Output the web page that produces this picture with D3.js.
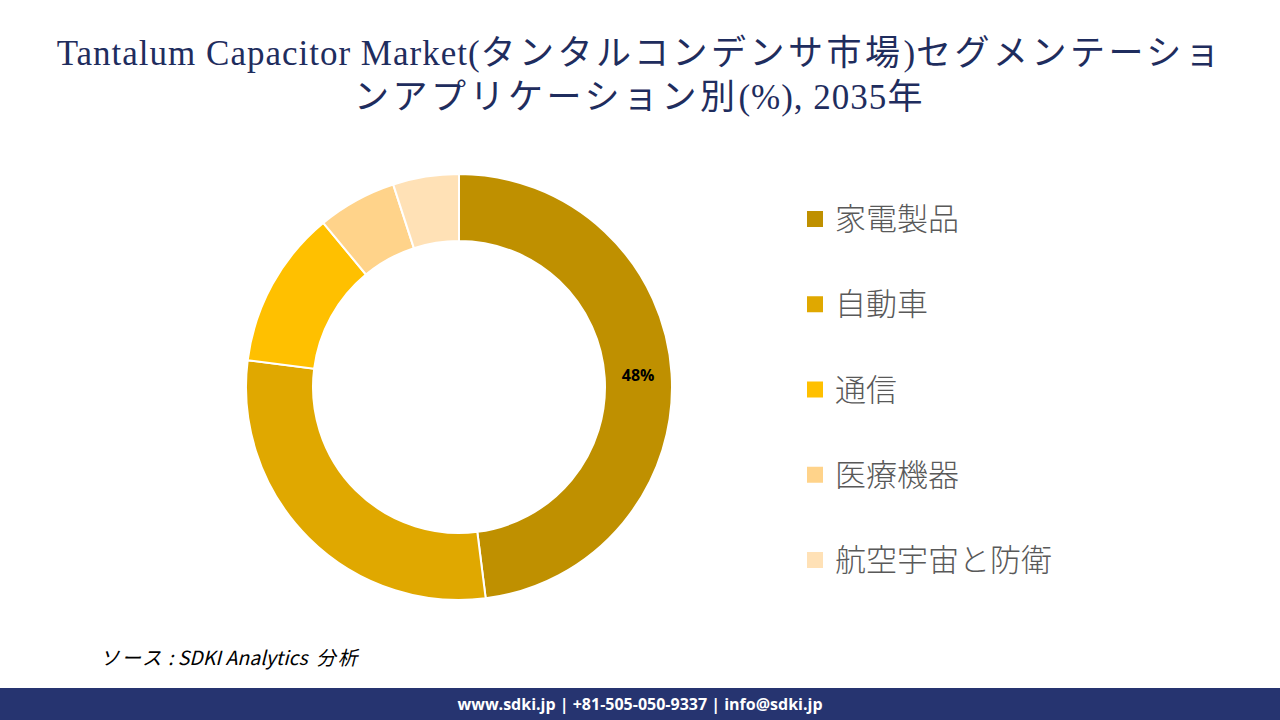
<!DOCTYPE html>
<html>
<head>
<meta charset="utf-8">
<script src="https://cdn.jsdelivr.net/npm/d3@7"></script>
<style>
  body { margin: 0; background: #fff; }
  svg { display: block; }
</style>
</head>
<body>
<div id="chart"></div>
<script>
// data
const segments = ['家電製品', '自動車', '通信', '医療機器', '航空宇宙と防衛'];
const shares = [48, 29, 12, 6, 5];
const colors = ['#BF9000', '#E0A800', '#FFC000', '#FFD38A', '#FFE1B6'];
const titleLines = [
    'Tantalum Capacitor Market(タンタルコンデンサ市場)セグメンテーショ',
    'ンアプリケーション別(%), 2035年'
];

const W = 1280, H = 720;
const svg = d3.select('#chart').append('svg')
    .attr('width', W)
    .attr('height', H);

// split a line into latin / japanese runs so each gets its own spacing
function runs(str) {
    return str.match(/[\u3000-\u9fff\uff00-\uffef]+|[^\u3000-\u9fff\uff00-\uffef]+/g)
        .map(t => ({ t, jp: /[\u3000-\u9fff\uff00-\uffef]/.test(t) }));
}

// title
const title = svg.selectAll('.title')
    .data(titleLines)
    .join('text')
    .attr('class', 'title')
    .attr('x', W / 2)
    .attr('y', (d, i) => 65 + i * 44)
    .attr('text-anchor', 'middle')
    .style('font-family', '"Liberation Serif", "Noto Sans CJK JP", serif')
    .style('font-size', '35px')
    .style('fill', '#1F2D5E');

title.selectAll('tspan')
    .data(d => runs(d))
    .join('tspan')
    .style('letter-spacing', d => d.jp ? '3.5px' : '1px')
    .text(d => d.t);

// donut
const cx = 459, cy = 387;
const outerR = 213, innerR = 146;

const pie = d3.pie().sort(null).value(d => d.v);
const arc = d3.arc().innerRadius(innerR).outerRadius(outerR);
const arcs = pie(segments.map((s, i) => ({ name: s, v: shares[i], c: colors[i] })));

const g = svg.append('g').attr('transform', `translate(${cx},${cy})`);

g.selectAll('path')
    .data(arcs)
    .join('path')
    .attr('d', arc)
    .style('fill', d => d.data.c)
    .style('stroke', '#fff')
    .style('stroke-width', 2);

// only the biggest slice is labelled
g.selectAll('.lbl')
    .data(arcs.filter(d => d.data.v >= 40))
    .join('text')
    .attr('class', 'lbl')
    .attr('transform', d => `translate(${arc.centroid(d)})`)
    .attr('text-anchor', 'middle')
    .attr('dy', '0.35em')
    .style('font-family', '"Open Sans", "Liberation Sans", sans-serif')
    .style('font-weight', 'bold')
    .style('font-size', '16px')
    .style('fill', '#000')
    .text(d => d.data.v + '%');

// legend
const legend = svg.append('g');
const ly = d3.scalePoint().domain(segments).range([219, 560]);

legend.selectAll('rect')
    .data(segments)
    .join('rect')
    .attr('x', 807)
    .attr('y', d => ly(d) - 8)
    .attr('width', 16)
    .attr('height', 16)
    .style('fill', (d, i) => colors[i]);

legend.selectAll('text')
    .data(segments)
    .join('text')
    .attr('x', 835)
    .attr('y', d => ly(d))
    .attr('dy', '0.36em')
    .style('font-family', '"Noto Sans CJK JP", sans-serif')
    .style('font-weight', 300)
    .style('font-size', '31px')
    .style('fill', '#595959')
    .text(d => d);

// source
svg.append('text')
    .attr('x', 100)
    .attr('y', 665)
    .style('font-family', '"Noto Sans CJK JP", "Open Sans", sans-serif')
    .style('font-style', 'italic')
    .style('font-size', '19.5px')
    .style('fill', '#000')
    .selectAll('tspan')
    .data(runs('ソース : SDKI Analytics  分析'))
    .join('tspan')
    .style('letter-spacing', d => d.jp ? '2px' : '0px')
    .style('white-space', 'pre')
    .text(d => d.t);

// footer
svg.append('rect')
    .attr('x', 0)
    .attr('y', 688)
    .attr('width', W)
    .attr('height', 32)
    .style('fill', '#263470');

svg.append('text')
    .attr('x', W / 2)
    .attr('y', 710)
    .attr('text-anchor', 'middle')
    .style('font-family', '"Open Sans", "Liberation Sans", sans-serif')
    .style('font-weight', 'bold')
    .style('font-size', '16px')
    .style('fill', '#fff')
    .text('www.sdki.jp | +81-505-050-9337 | info@sdki.jp');
</script>
</body>
</html>
